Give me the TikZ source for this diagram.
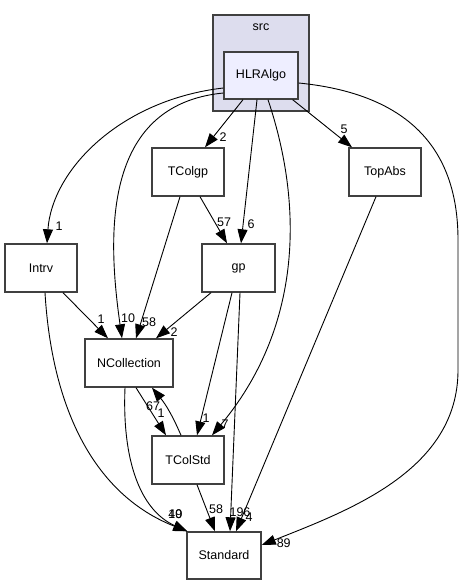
\documentclass[tikz,border=0pt]{standalone}
\usepackage{fontspec}
\setmainfont{Liberation Sans}
\usetikzlibrary{arrows.meta}
\definecolor{srcfill}{HTML}{DDDDEE}
\definecolor{dirfill}{HTML}{EEEEFF}
\definecolor{boxline}{HTML}{404040}
\tikzset{
  srcbox/.style = {rectangle, draw=boxline, fill=srcfill, line width=1.4pt,
                   minimum width=96pt, minimum height=96pt, inner sep=0pt},
  dirblk/.style = {rectangle, draw=boxline, fill=white, line width=1.4pt,
                   font=\fontsize{12.5}{15}\selectfont, minimum width=72pt,
                   minimum height=48pt, inner sep=0pt},
  lbl/.style    = {font=\fontsize{12.5}{15}\selectfont, inner sep=0pt},
  dep/.style    = {-{Triangle[length=14pt,width=10pt]}, line width=0.9pt, draw=black},
}

\begin{document}
\begin{tikzpicture}[x=1pt, y=-1pt]
    \path[use as bounding box, fill=white] (0,0) rectangle (466,585);
    % cluster
    \node[srcbox] (src) at (261,63) {};
    \node[lbl] (srctitle) at ([yshift=-13pt]src.north) {src};
    \node[dirblk, fill=dirfill, minimum width=74pt, minimum height=47pt] (hlr) at (261,75.5) {HLRAlgo};
    % directories
    \node[dirblk] (tcolgp) at (188,172) {TColgp};
    \node[dirblk] (topabs) at (385,172) {TopAbs};
    \node[dirblk] (intrv)  at (41,268)  {Intrv};
    \node[dirblk, minimum width=73pt] (gp) at (238.5,268) {gp};
    \node[dirblk, minimum width=88pt] (ncoll) at (129,363) {NCollection};
    \node[dirblk] (tcolstd) at (188,460) {TColStd};
    \node[dirblk, minimum width=74pt, minimum height=47pt] (std) at (224,555.5) {Standard};
    % dependencies
    \draw[dep] ([yshift=-12.5pt]hlr.west) .. controls (120,100) and (52,170) .. ([xshift=6pt]intrv.north) node[lbl, xshift=12pt, yshift=17pt] {1};
    \draw[dep] ([yshift=-17.5pt]hlr.west) .. controls (100,105) and (108,240) .. ([xshift=-7pt]ncoll.north) node[lbl, xshift=6pt, yshift=20pt] {10};
    \draw[dep] ([xshift=-18pt]hlr.south) -- ([xshift=17pt]tcolgp.north) node[lbl, xshift=18pt, yshift=10pt] {2};
    \draw[dep] ([xshift=-4pt]hlr.south) -- ([xshift=2.5pt]gp.north) node[lbl, xshift=10pt, yshift=19pt] {6};
    \draw[dep] ([xshift=7pt]hlr.south) .. controls (305,210) and (300,330) .. ([xshift=24pt]tcolstd.north) node[lbl, xshift=13pt, yshift=11pt] {7};
    \draw[dep] ([xshift=-6pt]hlr.south east) -- ([xshift=-33pt]topabs.north) node[lbl, xshift=-8pt, yshift=18pt] {5};
    \draw[dep] ([yshift=-7.5pt]hlr.east) .. controls (420,95) and (458,160) .. (458,240) -- (458,370)
        .. controls (458,470) and (350,510) .. ([yshift=10.5pt]std.east) node[lbl, xshift=22pt, yshift=1.5pt] {89};
    \draw[dep] ([xshift=-8pt]tcolgp.south) -- ([xshift=7pt]ncoll.north) node[lbl, xshift=13pt, yshift=16pt] {58};
    \draw[dep] ([xshift=12pt]tcolgp.south) -- ([xshift=-11.5pt]gp.north) node[lbl, xshift=-3pt, yshift=21pt] {57};
    \draw[dep] ([xshift=-9pt]topabs.south) -- ([xshift=12pt]std.north) node[lbl, xshift=13pt, yshift=14pt] {4};
    \draw[dep] ([xshift=22pt]intrv.south) -- ([xshift=-21pt]ncoll.north) node[lbl, xshift=-7pt, yshift=19pt] {1};
    \draw[dep] ([xshift=4pt]intrv.south) .. controls (52,410) and (95,495) .. ([xshift=1pt]std.north west) node[lbl, xshift=-12pt, yshift=17pt] {10};
    \draw[dep] ([xshift=-4pt]ncoll.south) .. controls (122,460) and (140,510) .. ([xshift=1pt]std.north west) node[lbl, xshift=-12pt, yshift=17pt] {49};
    \draw[dep] ([xshift=-27.5pt]gp.south) -- ([xshift=27pt]ncoll.north) node[lbl, xshift=18pt, yshift=6pt] {2};
    \draw[dep] ([xshift=-6.5pt]gp.south) -- ([xshift=9pt]tcolstd.north) node[lbl, xshift=9pt, yshift=17pt] {1};
    \draw[dep] ([xshift=1.5pt]gp.south) -- ([xshift=6pt]std.north) node[lbl, xshift=10pt, yshift=19pt] {196};
    \draw[dep] ([xshift=7pt]ncoll.south) -- ([xshift=-22pt]tcolstd.north) node[lbl, xshift=-5pt, yshift=22pt] {1};
    \draw[dep] ([xshift=-7pt]tcolstd.north) to[bend right=8] ([xshift=23pt]ncoll.south) node[lbl, xshift=1pt, yshift=-18pt] {67};
    \draw[dep] ([xshift=9pt]tcolstd.south) -- ([xshift=-9pt]std.north) node[lbl, xshift=1pt, yshift=22pt] {58};
\end{tikzpicture}
\end{document}
